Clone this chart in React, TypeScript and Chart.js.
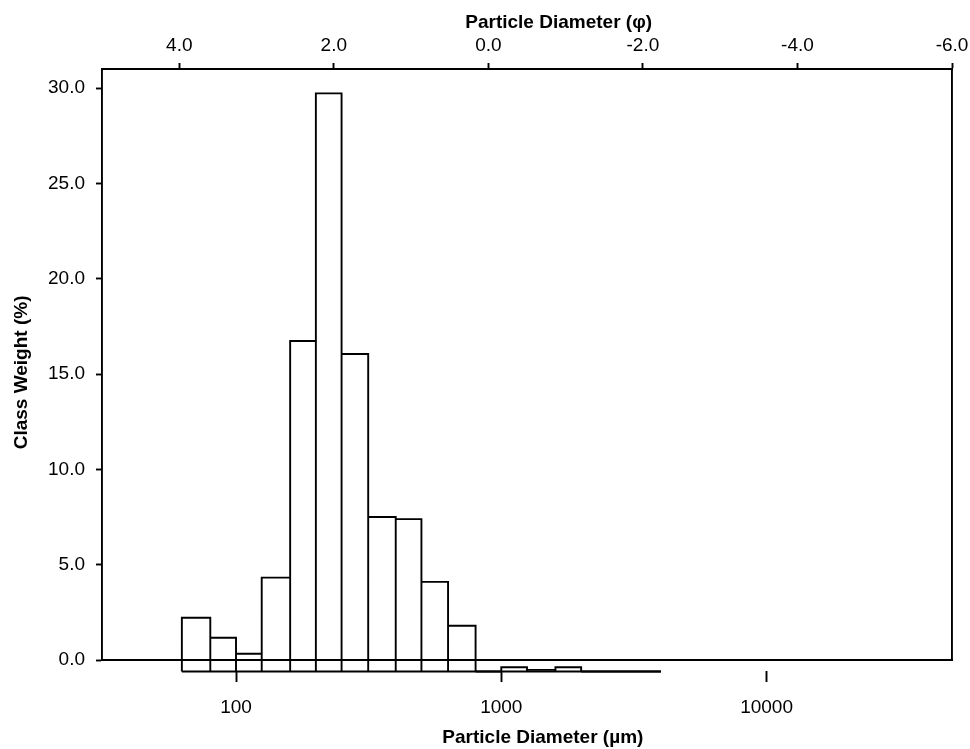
import { useEffect, useRef } from 'react';
import { Chart, registerables } from 'chart.js';

Chart.register(...registerables);

// Sieve class edges (µm) and the top of each class bar (% read on the y axis)
const BIN_EDGES_UM = [62.5, 80, 100, 125, 160, 200, 250, 315, 400, 500, 630, 800, 1000, 1250, 1600, 2000, 2500, 3150, 4000];
const CLASS_WEIGHT_TOP = [2.22, 1.17, 0.33, 4.32, 16.73, 29.72, 16.05, 7.5, 7.39, 4.1, 1.8, -0.6, -0.38, -0.52, -0.38, -0.6, -0.6, -0.6];
const BAR_BASE = -0.6;

const Y_TICKS = [0, 5, 10, 15, 20, 25, 30];
const UM_TICKS = [100, 1000, 10000];
const PHI_TICKS = [4, 2, 0, -2, -4, -6];

const FONT = '"Liberation Sans", Arial, sans-serif';
const LW = 1.9;

export default function App() {
  const ref = useRef<HTMLCanvasElement>(null);

  useEffect(() => {
    const canvas = ref.current;
    if (!canvas) return;

    const bars: { x: number; y: number | null }[] = [];
    for (let i = 0; i < CLASS_WEIGHT_TOP.length; i++) {
      const x0 = BIN_EDGES_UM[i];
      const x1 = BIN_EDGES_UM[i + 1];
      const top = CLASS_WEIGHT_TOP[i];
      bars.push({ x: x0, y: BAR_BASE }, { x: x0, y: top }, { x: x1, y: top }, { x: x1, y: BAR_BASE }, { x: x1, y: null });
    }
    const baseline = [
      { x: BIN_EDGES_UM[0], y: BAR_BASE },
      { x: BIN_EDGES_UM[BIN_EDGES_UM.length - 1], y: BAR_BASE },
    ];

    const tickFont = { family: FONT, size: 19 };
    const titleFont = { family: FONT, size: 19, weight: 'bold' as const };

    const chart = new Chart(canvas, {
      type: 'scatter',
      data: {
        datasets: [
          {
            data: bars as any,
            showLine: true,
            spanGaps: false,
            borderColor: '#000',
            borderWidth: LW,
            pointRadius: 0,
            clip: false as any,
            xAxisID: 'x',
            yAxisID: 'y',
          },
          {
            data: baseline as any,
            showLine: true,
            borderColor: '#000',
            borderWidth: LW,
            pointRadius: 0,
            clip: false as any,
            xAxisID: 'x',
            yAxisID: 'y',
          },
        ],
      },
      options: {
        animation: false,
        responsive: true,
        maintainAspectRatio: false,
        layout: { padding: 0 },
        plugins: { legend: { display: false }, tooltip: { enabled: false } },
        scales: {
          x: {
            type: 'logarithmic',
            position: 'bottom',
            min: 31.25,
            max: 50000,
            afterBuildTicks: (s: any) => { s.ticks = UM_TICKS.map((v) => ({ value: v })); },
            afterFit: (s: any) => { s.height = 89; s.paddingLeft = 0; s.paddingRight = 0; },
            border: { display: true, color: '#000', width: LW },
            grid: {
              drawOnChartArea: false,
              drawTicks: true,
              tickLength: 22,
              tickColor: '#000',
              tickWidth: LW,
              tickBorderDash: [0, 10, 12, 100],
            } as any,
            ticks: {
              color: '#000',
              font: tickFont,
              padding: 14,
              maxRotation: 0,
              autoSkip: false,
              callback: (v: any) => String(v),
            },
            title: {
              display: true,
              text: '      Particle Diameter (µm)',
              color: '#000',
              font: titleFont,
              padding: { top: 0, bottom: 0 },
            },
          },
          xTop: {
            type: 'linear',
            position: 'top',
            reverse: true,
            min: -6,
            max: 5,
            afterBuildTicks: (s: any) => { s.ticks = PHI_TICKS.map((v) => ({ value: v })); },
            afterFit: (s: any) => { s.height = 69; s.paddingLeft = 0; s.paddingRight = 0; },
            border: { display: true, color: '#000', width: LW },
            grid: { drawOnChartArea: false, drawTicks: true, tickLength: 6, tickColor: '#000', tickWidth: LW },
            ticks: {
              color: '#000',
              font: tickFont,
              padding: 6,
              maxRotation: 0,
              autoSkip: false,
              callback: (v: any) => Number(v).toFixed(1),
            },
            title: {
              display: true,
              text: '            Particle Diameter (φ)',
              color: '#000',
              font: titleFont,
              padding: { top: 11, bottom: 0 },
            },
          },
          y: {
            type: 'linear',
            position: 'left',
            min: 0,
            max: 31,
            afterBuildTicks: (s: any) => { s.ticks = Y_TICKS.map((v) => ({ value: v })); },
            afterFit: (s: any) => { s.width = 102; s.paddingTop = 0; s.paddingBottom = 0; },
            border: { display: true, color: '#000', width: LW },
            grid: { drawOnChartArea: false, drawTicks: true, tickLength: 6, tickColor: '#000', tickWidth: LW },
            ticks: {
              color: '#000',
              font: tickFont,
              padding: 11,
              callback: (v: any) => Number(v).toFixed(1),
            },
            title: {
              display: true,
              text: 'Class Weight (%)   ',
              color: '#000',
              font: titleFont,
              padding: { top: 10, bottom: 0 },
            },
          },
          yRight: {
            type: 'linear',
            position: 'right',
            min: 0,
            max: 31,
            afterFit: (s: any) => { s.width = 18; s.paddingTop = 0; s.paddingBottom = 0; },
            border: { display: true, color: '#000', width: LW },
            grid: { drawOnChartArea: false, drawTicks: false },
            ticks: { display: false },
          },
        },
      } as any,
    });

    return () => chart.destroy();
  }, []);

  return (
    <div style={{ position: 'fixed', left: 0, top: 0, width: 970, height: 749, background: '#fff' }}>
      <canvas ref={ref} style={{ width: '100%', height: '100%' }} />
    </div>
  );
}
